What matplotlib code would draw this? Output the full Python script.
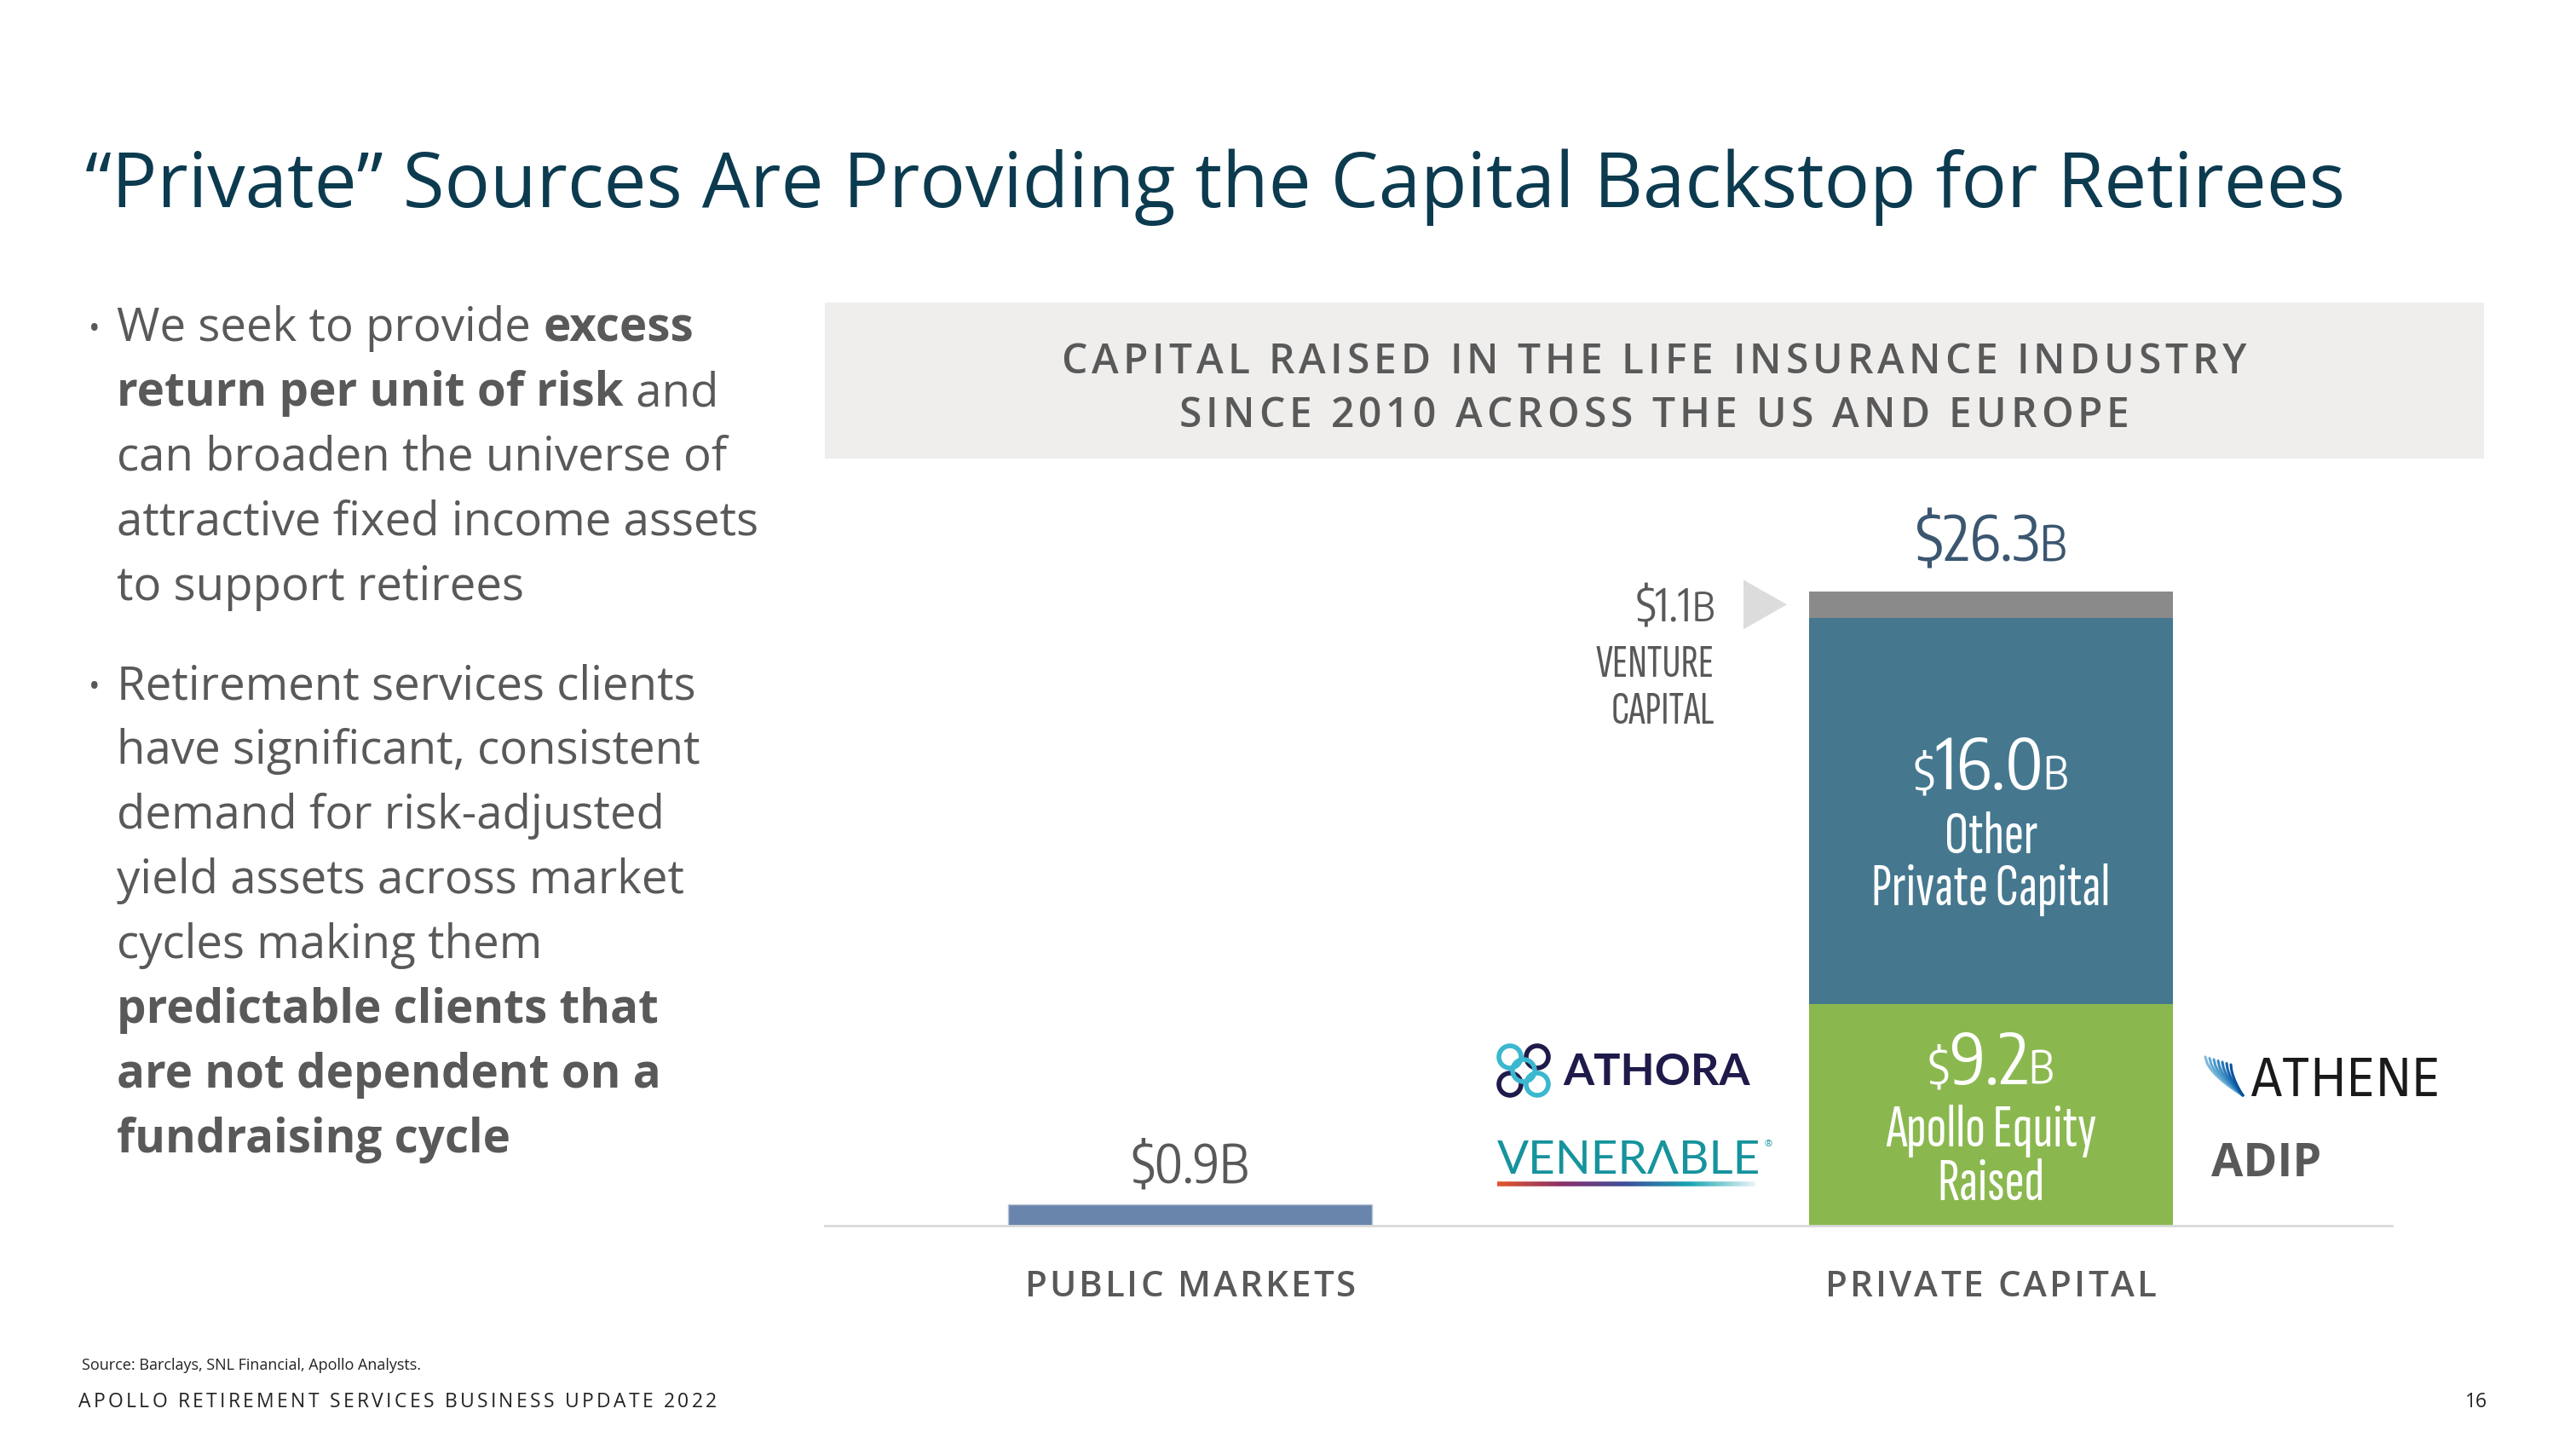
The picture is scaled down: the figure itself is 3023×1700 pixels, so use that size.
import matplotlib
matplotlib.use('Agg')
import matplotlib.pyplot as plt
from matplotlib import font_manager as fm
from matplotlib.font_manager import FontProperties
from matplotlib.textpath import TextPath
from matplotlib.patches import Rectangle, Polygon, Circle
from matplotlib.collections import LineCollection
from matplotlib.colors import LinearSegmentedColormap
import numpy as np

W, H = 3023, 1700

# ---- data ----
categories = ['PUBLIC MARKETS', 'PRIVATE CAPITAL']
public_value = [0.9]
private_names = ['Apollo Equity Raised', 'Other Private Capital', 'Venture Capital']
private_values = [9.2, 16.0, 1.1]
private_total = 26.3
private_colors = ['#8ab84f', '#45788f', '#8a8a8a']
public_color = '#6a85ab'

GRAY = '#595959'
TITLE = '#0c3b50'
SANS = 'Open Sans'


def _weight(f):
    wmap = {'light': 300, 'normal': 400, 'regular': 400, 'book': 400, 'medium': 500,
            'semibold': 600, 'bold': 700}
    return f.weight if isinstance(f.weight, int) else wmap.get(str(f.weight).lower(), 400)


def _ext(s, fname):
    return TextPath((0, 0), s, size=100, prop=FontProperties(fname=fname)).get_extents()


def _ratio(s, fname):
    return _ext(s, fname).width / _ext('H', fname).height


CANDS = {}
for f in fm.fontManager.ttflist:
    n = f.name
    cond = ('Condensed' in n or 'Narrow' in n or
            f.stretch in ('condensed', 'semi-condensed', 'extra-condensed', 'ultra-condensed'))
    sans = ('Sans' in n or 'Roboto' in n) and not any(b in n for b in ('Serif', 'Slab', 'Mono'))
    if cond and sans and f.style == 'normal' and 300 <= _weight(f) <= 400:
        CANDS[f.fname] = _weight(f)


def pick(sample, target, weights=(300, 400)):
    # installed condensed sans face whose width/cap-height is closest to the reference
    pool = [fn for fn, w in CANDS.items() if w in weights] or list(CANDS)
    best = None
    for fn in pool:
        try:
            r = _ratio(sample, fn)
        except Exception:
            continue
        if best is None or abs(r - target) < best[0]:
            best = (abs(r - target), fn)
    fn = best[1] if best else fm.findfont(FontProperties(family='DejaVu Sans'))
    return fn, min(1.0, target / _ratio(sample, fn))


F_NUM = pick('16.0', 1.94, weights=(400,))
F_TXT = pick('Private Capital', 5.95)
F_LOGO = pick('ATHENE', 5.1)


def cfp(cap_px, which=None):
    fn, k = which or F_NUM
    cap = _ext('H', fn).height / 100.0
    return FontProperties(fname=fn, size=cap_px / (cap * 100 / 72) * k)


fig = plt.figure(figsize=(W / 100, H / 100), dpi=100)
fig.patch.set_facecolor('white')

# ---- bar axes ----
px_per_b = 28.3
ax_left, ax_right, ax_base = 968, 2807, 1438
ax_h = 30 * px_per_b
ax = fig.add_axes([ax_left / W, (H - ax_base) / H, (ax_right - ax_left) / W, ax_h / H])
ax.set_facecolor('none')
bar_w = 0.4545
ax.bar([0], public_value, width=bar_w, color=public_color, edgecolor='#b8c6d8', linewidth=1)
bottom = 0
for v, c in zip(private_values, private_colors):
    ax.bar([1], [v], bottom=bottom, width=bar_w, color=c, linewidth=0)
    bottom += v
ax.set_xlim(-0.4566, 1.5008)
ax.set_ylim(0, 30)
for s in ['top', 'right', 'left']:
    ax.spines[s].set_visible(False)
ax.spines['bottom'].set_color('#d9d9d9')
ax.spines['bottom'].set_linewidth(2)
ax.set_xticks([])
ax.set_yticks([])

# ---- overlay in pixel coords ----
ov = fig.add_axes([0, 0, 1, 1])
ov.set_xlim(0, W)
ov.set_ylim(H, 0)
ov.axis('off')

R = fig.canvas.get_renderer()


def text_width(s, **kw):
    t = ov.text(0, 0, s + '|', **kw)
    w1 = t.get_window_extent(R).width
    t.set_text('|')
    w2 = t.get_window_extent(R).width
    t.remove()
    return w1 - w2


def runs(x, y, parts, ha='left', track=0):
    items = []
    for s, kw in parts:
        if track:
            items += [(ch, kw) for ch in s]
        else:
            items.append((s, kw))
    ws = [text_width(s, **kw) + track for s, kw in items]
    total = sum(ws) - track
    x0 = x - total / 2 if ha == 'center' else (x - total if ha == 'right' else x)
    for (s, kw), w in zip(items, ws):
        ov.text(x0, y, s, ha='left', va='baseline', **kw)
        x0 += w
    return x0


def to_px(x, v):
    dx, dy = ax.transData.transform((x, v))
    return dx, H - dy


# title
ov.text(100, 243, '\u201cPrivate\u201d Sources Are Providing the Capital Backstop for Retirees',
        fontsize=64, color=TITLE, family=SANS, va='baseline', ha='left')

# bullets
reg = dict(fontsize=39.3, color=GRAY, family=SANS)
bold = dict(fontsize=39.3, color=GRAY, family=SANS, weight='bold')
bullet_lines = [
    [('We seek to provide ', reg), ('excess', bold)],
    [('return per unit of risk', bold), (' and', reg)],
    [('can broaden the universe of', reg)],
    [('attractive fixed income assets', reg)],
    [('to support retirees', reg)],
    [('Retirement services clients', reg)],
    [('have significant, consistent', reg)],
    [('demand for risk-adjusted', reg)],
    [('yield assets across market', reg)],
    [('cycles making them', reg)],
    [('predictable clients that', bold)],
    [('are not dependent on a', bold)],
    [('fundraising cycle', bold)],
]
base_y = [400, 476, 552, 628, 704, 820, 896, 972, 1048, 1124, 1200, 1276, 1352]
for parts, y in zip(bullet_lines, base_y):
    runs(137, y, parts)
for y in (400, 820):
    ov.text(104, y - 3, '\u2022', fontsize=26, color=GRAY, family=SANS, va='baseline', ha='left')

# header box
ov.add_patch(Rectangle((968, 355), 2915 - 968, 538 - 355, facecolor='#efeeed', edgecolor='none'))
hdr = dict(fontsize=34.5, color=GRAY, family=SANS, weight='semibold')
runs(1941, 438, [('CAPITAL RAISED IN THE LIFE INSURANCE INDUSTRY', hdr)], ha='center', track=5)
runs(1941, 501, [('SINCE 2010 ACROSS THE US AND EUROPE', hdr)], ha='center', track=5)

# ---- bar labels ----
px0, ytop_pub = to_px(0, public_value[0])
runs(px0, ytop_pub - 25, [('$0.9B', dict(fontproperties=cfp(47), color=GRAY))], ha='center')

pxc, ytop = to_px(1, private_total)
NAVY = '#3b5670'
runs(pxc, ytop - 35, [('$26.3', dict(fontproperties=cfp(55), color=NAVY)),
                      ('B', dict(fontproperties=cfp(43), color=NAVY))], ha='center')

# venture capital (top segment)
vc_mid = private_values[0] + private_values[1] + private_values[2] / 2
bar_left_px, yv = to_px(1 - bar_w / 2, vc_mid)
rx = bar_left_px - 111
runs(rx, yv + 20, [('$1.1', dict(fontproperties=cfp(40), color=GRAY)),
                   ('B', dict(fontproperties=cfp(36), color=GRAY))], ha='right')
ov.text(rx, yv + 85, 'VENTURE', fontproperties=cfp(36, F_TXT), color=GRAY, ha='right', va='baseline')
ov.text(rx, yv + 140, 'CAPITAL', fontproperties=cfp(36, F_TXT), color=GRAY, ha='right', va='baseline')
ov.add_patch(Polygon([(bar_left_px - 77, yv - 29), (bar_left_px - 77, yv + 29),
                      (bar_left_px - 26, yv)], closed=True, facecolor='#dcdcdc', edgecolor='none'))

# other private capital
_, yb = to_px(1, private_values[0] + private_values[1] / 2)
runs(pxc, yb - 25, [('$', dict(fontproperties=cfp(42), color='white')),
                    ('16.0', dict(fontproperties=cfp(63), color='white')),
                    ('B', dict(fontproperties=cfp(40), color='white'))], ha='center')
ov.text(pxc, yb + 50, 'Other', fontproperties=cfp(46, F_TXT), color='white', ha='center', va='baseline')
ov.text(pxc, yb + 111, 'Private Capital', fontproperties=cfp(46, F_TXT), color='white',
        ha='center', va='baseline')

# apollo equity raised
_, yg = to_px(1, private_values[0] / 2)
runs(pxc, yg - 36, [('$', dict(fontproperties=cfp(42), color='white')),
                    ('9.2', dict(fontproperties=cfp(63), color='white')),
                    ('B', dict(fontproperties=cfp(40), color='white'))], ha='center')
ov.text(pxc, yg + 37, 'Apollo Equity', fontproperties=cfp(46, F_TXT), color='white',
        ha='center', va='baseline')
ov.text(pxc, yg + 100, 'Raised', fontproperties=cfp(46, F_TXT), color='white', ha='center', va='baseline')

# category labels
cat = dict(fontsize=30.3, color=GRAY, family=SANS, weight='semibold')
_, ybase = to_px(0, 0)
for i, name in enumerate(categories):
    cx, _ = to_px(i, 0)
    runs(cx, ybase + 83, [(name, cat)], ha='center', track=3)

# ---- logos (approximate) ----
# Athora
for (dx, dy), col in zip([(-16, -16), (16, -16), (-16, 16), (16, 16), (0, 0)],
                         ['#3bb8cf', '#1e1b4b', '#1e1b4b', '#3bb8cf', '#3bb8cf']):
    ov.add_patch(Circle((1788 + dx, 1256 + dy), 13, fill=False, edgecolor=col, linewidth=4))
ov.text(1834, 1273, 'ATHORA', fontsize=37.5, weight='bold', color='#1e1b4b', family='Lato',
        ha='left', va='baseline')
# Venerable
vend = runs(1757, 1377, [('VENER\u039bBLE', dict(fontsize=39.5, color='#16939d', family='Lato'))])
ov.text(vend + 4, 1345, '\u00ae', fontsize=8, color='#16939d', family=SANS, ha='left', va='baseline')
gx = np.linspace(1757, 2060, 200)
segs = [[(gx[i], 1389), (gx[i + 1], 1389)] for i in range(len(gx) - 1)]
gcm = LinearSegmentedColormap.from_list('g', ['#e0562a', '#8a2f6a', '#3d4f9a', '#1aa6b3', '#e6f3f5'])
ov.add_collection(LineCollection(segs, colors=gcm(np.linspace(0, 1, len(segs))), linewidths=4))
# Athene
for k in range(7):
    t = np.linspace(0, 1, 20)
    xs = 2588 + k * 5 + t * (44 - k * 5)
    ys = 1240 + k * 1.5 + (t ** 0.6) * (45 - k * 1.5)
    ov.plot(xs, ys, color=plt.cm.Blues(0.45 + k * 0.07), linewidth=2.2, solid_capstyle='round')
ov.text(2641, 1286, 'ATHENE', fontproperties=cfp(44, F_LOGO), color='#1a1a1a', ha='left', va='baseline')
ov.text(2595, 1380, 'ADIP', fontsize=39, weight='bold', color=GRAY, family=SANS,
        ha='left', va='baseline')

# ---- footer ----
ov.text(96, 1607, 'Source: Barclays, SNL Financial, Apollo Analysts.', fontsize=13, color='#222222',
        family=SANS, ha='left', va='baseline')
runs(92, 1651, [('APOLLO RETIREMENT SERVICES BUSINESS UPDATE 2022',
                 dict(fontsize=16.5, color='#222222', family=SANS))], track=3.3)
ov.text(2919, 1651, '16', fontsize=16.5, color='#222222', family=SANS, ha='right', va='baseline')

fig.savefig('out.png', dpi=100, facecolor='white')
